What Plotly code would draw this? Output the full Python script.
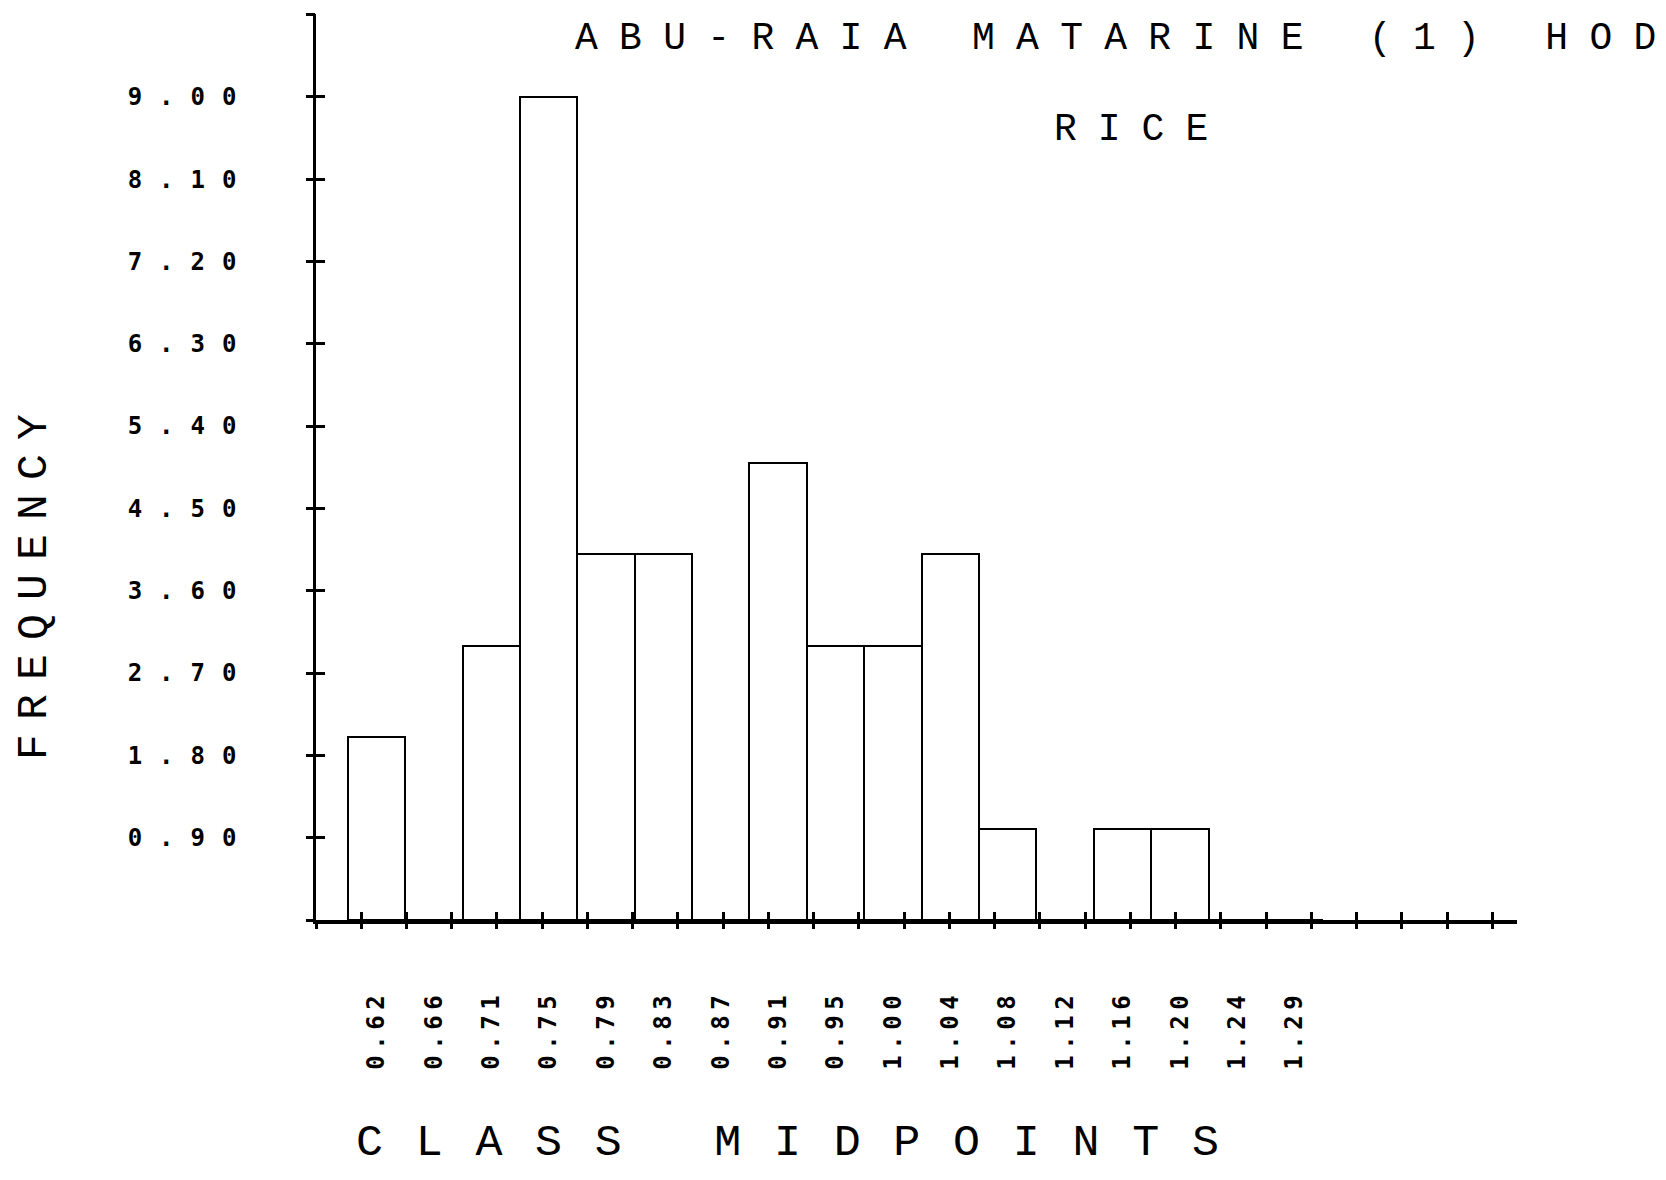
import plotly.graph_objects as go

# class midpoints (categories) and bar heights
class_midpoints = ["0.62", "0.66", "0.71", "0.75", "0.79", "0.83", "0.87", "0.91", "0.95",
                   "1.00", "1.04", "1.08", "1.12", "1.16", "1.20", "1.24", "1.29"]
frequency = [2, 0, 3, 9, 4, 4, 0, 5, 3, 3, 4, 1, 0, 1, 1, 0, 0]

# labelled y ticks
y_ticks = [0.90, 1.80, 2.70, 3.60, 4.50, 5.40, 6.30, 7.20, 8.10, 9.00]

title_text = "ABU-RAIA MATARINE (1) HOD"
subtitle_text = "RICE"
x_title = "CLASS MIDPOINTS"
y_title = "FREQUENCY"


def spaced(s, px):
    # plotter lettering is very wide, fake it with letter-spacing
    # (last char left out so there is no trailing gap)
    return f'<span style="letter-spacing:{px}px">{s[:-1]}</span>{s[-1]}'


X_RANGE = [-1.054, 19.876]
Y_RANGE = [0, 9.905]
TICK_STEP_X = 0.7885

fig = go.Figure()

fig.add_trace(go.Bar(
    x=class_midpoints, y=frequency, width=1,
    marker=dict(color='white', line=dict(color='black', width=2)),
    hovertemplate='%{x}: %{y}<extra></extra>',
    showlegend=False,
))
# empty traces so the overlay axes (crossing tick marks) get drawn
fig.add_trace(go.Scatter(x=[], y=[], xaxis='x2', yaxis='y2', showlegend=False, hoverinfo='skip'))
fig.add_trace(go.Scatter(x=[], y=[], xaxis='x3', yaxis='y3', showlegend=False, hoverinfo='skip'))

label_font = dict(family='Liberation Mono', color='black')

# page body has an 8px margin, so the figure is a bit smaller than the window
fig.update_layout(
    width=1650, height=1164, autosize=False,
    paper_bgcolor='white', plot_bgcolor='white',
    margin=dict(l=308, r=141, t=6, b=252),
    bargap=0,
    xaxis=dict(
        type='category', range=X_RANGE,
        tickvals=class_midpoints,
        ticktext=['<b>' + spaced(c, 5.5) + '</b>' for c in class_midpoints],
        tickangle=-90, tickfont=dict(family='DejaVu Sans Mono', size=24, color='black'),
        ticks='', ticklabelstandoff=62,
        showline=True, linecolor='black', linewidth=3.5,
        showgrid=False, zeroline=False,
    ),
    yaxis=dict(
        range=Y_RANGE,
        tickvals=y_ticks,
        ticktext=['<b>' + spaced(f'{v:.2f}', 17) + '</b>' for v in y_ticks],
        tickfont=dict(family='DejaVu Sans Mono', size=24, color='black'),
        ticks='', ticklabelstandoff=72,
        showline=True, linecolor='black', linewidth=2.5,
        showgrid=False, zeroline=False,
    ),
    # tick marks that cross the axis lines: one outside, one inside
    xaxis2=dict(overlaying='x', anchor='y', range=X_RANGE, tick0=X_RANGE[0] + 1e-6, dtick=TICK_STEP_X,
                ticks='outside', ticklen=8, tickwidth=2.5, tickcolor='black',
                showticklabels=False, showgrid=False, zeroline=False, showline=False),
    xaxis3=dict(overlaying='x', anchor='y', range=X_RANGE, tick0=X_RANGE[0] + 1e-6, dtick=TICK_STEP_X,
                ticks='inside', ticklen=8, tickwidth=2.5, tickcolor='black',
                showticklabels=False, showgrid=False, zeroline=False, showline=False),
    yaxis2=dict(overlaying='y', anchor='x', side='left', range=Y_RANGE, tick0=0, dtick=0.9,
                ticks='outside', ticklen=9, tickwidth=2.5, tickcolor='black',
                showticklabels=False, showgrid=False, zeroline=False, showline=False),
    yaxis3=dict(overlaying='y', anchor='x', side='left', range=Y_RANGE, tick0=0, dtick=0.9,
                ticks='inside', ticklen=9, tickwidth=2.5, tickcolor='black',
                showticklabels=False, showgrid=False, zeroline=False, showline=False),
)

annotations = [
    dict(text=spaced(title_text, 21.3), x=0.214, y=0.973, xanchor='left', yanchor='middle',
         font=dict(size=38, **label_font)),
    dict(text=spaced(subtitle_text, 21), x=0.613, y=0.873, xanchor='left', yanchor='middle',
         font=dict(size=38, **label_font)),
    dict(text=spaced(y_title, 14.2), x=-0.2348, y=0.3675, xanchor='center', yanchor='middle',
         textangle=-90, font=dict(size=43, **label_font)),
    dict(text=spaced(x_title, 32.7), x=0.0316, y=-0.2472, xanchor='left', yanchor='middle',
         font=dict(size=45, **label_font)),
]
for a in annotations:
    fig.add_annotation(xref='paper', yref='paper', showarrow=False, **a)

fig.write_html("out.html")
